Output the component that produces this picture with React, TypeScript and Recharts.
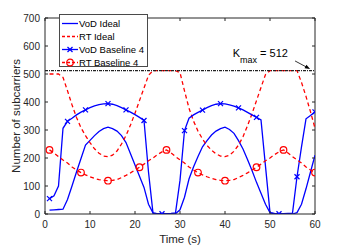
import React from 'react';
import { LineChart, Line, XAxis, YAxis, ReferenceLine, ReferenceDot } from 'recharts';

// time in seconds
const TIME = [
    1, 2, 3, 4, 5, 6, 7, 8, 9, 10, 11, 12, 13, 14, 15, 16, 17, 18, 19, 20,
    21, 22, 23, 24, 25, 26, 27, 28, 29, 30, 31, 32, 33, 34, 35, 36, 37, 38, 39, 40,
    41, 42, 43, 44, 45, 46, 47, 48, 49, 50, 51, 52, 53, 54, 55, 56, 57, 58, 59, 60
];

const VOD_IDEAL = [
    14, 15, 16, 17, 52, 100, 150, 198, 246, 263, 280, 295, 305, 310, 305, 296, 280, 255, 215, 175,
    135, 95, 35, 4, 0, 0, 0, 0, 1, 15, 60, 125, 168, 205, 240, 262, 282, 296, 305, 310,
    302, 288, 262, 232, 195, 155, 113, 74, 35, 5, 0, 0, 0, 0, 0, 5, 35, 90, 150, 210
];

const RT_IDEAL = [
    500, 500, 500, 488, 440, 390, 345, 308, 280, 255, 233, 217, 207, 205, 210, 225, 250, 280, 318, 360,
    405, 450, 495, 512, 512, 512, 512, 512, 512, 505, 440, 378, 332, 296, 268, 245, 228, 215, 207, 205,
    210, 224, 246, 276, 315, 358, 405, 452, 498, 512, 512, 512, 512, 512, 512, 512, 470, 420, 365, 306
];

const VOD_BASE = [
    55, 65, 100, 306, 331, 342, 354, 364, 372, 380, 386, 391, 393, 394, 392, 387, 380, 372, 364, 355,
    345, 334, 150, 3, 1, 1, 1, 2, 4, 120, 298, 342, 354, 363, 371, 380, 387, 392, 394, 393,
    390, 385, 379, 372, 363, 354, 345, 336, 170, 5, 2, 1, 1, 2, 3, 133, 240, 340, 352, 365
];

const RT_BASE = [
    229, 218, 205, 193, 182, 168, 157, 148, 140, 133, 127, 123, 120, 119, 120, 123, 130, 138, 147, 157,
    167, 178, 190, 200, 212, 222, 229, 218, 205, 193, 182, 168, 157, 148, 140, 133, 127, 123, 120, 119,
    120, 123, 130, 138, 147, 157, 167, 178, 190, 200, 212, 222, 229, 218, 205, 193, 182, 168, 157, 148
];

// times where markers are drawn
const VOD_BASE_MARKS = [1, 5, 9, 14, 18, 22, 26, 31, 35, 39, 43, 47, 52, 56, 60];
const RT_BASE_MARKS = [1, 8, 14, 21, 27, 34, 40, 47, 53, 60];

const X_TICKS = [0, 10, 20, 30, 40, 50, 60];
const Y_TICKS = [0, 100, 200, 300, 400, 500, 600, 700];
const K_MAX = 512;

const data = TIME.map((t, i) => ({
    t,
    vodIdeal: VOD_IDEAL[i],
    rtIdeal: RT_IDEAL[i],
    vodBase: VOD_BASE[i],
    rtBase: RT_BASE[i]
}));

const W = 349;
const H = 247;
const MARGIN = { top: 18, right: 34, bottom: 0, left: 0 };
const Y_AXIS_W = 45;
const X_AXIS_H = 33;
const PLOT_LEFT = MARGIN.left + Y_AXIS_W;
const PLOT_RIGHT = W - MARGIN.right;
const PLOT_TOP = MARGIN.top;
const PLOT_BOTTOM = H - MARGIN.bottom - X_AXIS_H;
const TICK_LEN = 3;

const AXIS_COLOR = '#262626';
const BLUE = '#0000ff';
const RED = '#ff0000';
const FONT = '"Liberation Sans", Arial, sans-serif';

const XTick = (props: any) => {
    const { x, y, payload } = props;
    return (
        <g>
            <line x1={x} x2={x} y1={PLOT_BOTTOM} y2={PLOT_BOTTOM - TICK_LEN} stroke={AXIS_COLOR} />
            <line x1={x} x2={x} y1={PLOT_TOP} y2={PLOT_TOP + TICK_LEN} stroke={AXIS_COLOR} />
            <text x={x} y={y} dy='0.71em' textAnchor='middle' fontSize={10} fill={AXIS_COLOR} fontFamily={FONT}>
                {payload.value}
            </text>
        </g>
    );
};

const YTick = (props: any) => {
    const { x, y, payload } = props;
    return (
        <g>
            <line x1={PLOT_LEFT} x2={PLOT_LEFT + TICK_LEN} y1={y} y2={y} stroke={AXIS_COLOR} />
            <line x1={PLOT_RIGHT - TICK_LEN} x2={PLOT_RIGHT} y1={y} y2={y} stroke={AXIS_COLOR} />
            <text x={x} y={y} dy='0.355em' textAnchor='end' fontSize={10} fill={AXIS_COLOR} fontFamily={FONT}>
                {payload.value}
            </text>
        </g>
    );
};

const YLabel = (props: any) => {
    const { viewBox } = props;
    const cx = viewBox.x + 19.5;
    const cy = viewBox.y + viewBox.height / 2;
    return (
        <text x={cx} y={cy} transform={`rotate(-90, ${cx}, ${cy})`} textAnchor='middle'
            fontSize={11.5} fill={AXIS_COLOR} fontFamily={FONT}>
            Number of subcarriers
        </text>
    );
};

const XLabel = (props: any) => {
    const { viewBox } = props;
    return (
        <text x={viewBox.x + viewBox.width / 2} y={viewBox.y + 29} textAnchor='middle'
            fontSize={11.5} fill={AXIS_COLOR} fontFamily={FONT}>
            Time (s)
        </text>
    );
};

const crossMark = (cx: number, cy: number, color: string, key?: any) => (
    <g key={key}>
        <line x1={cx - 2.5} y1={cy - 2.5} x2={cx + 2.5} y2={cy + 2.5} stroke={color} strokeWidth={1.2} />
        <line x1={cx - 2.5} y1={cy + 2.5} x2={cx + 2.5} y2={cy - 2.5} stroke={color} strokeWidth={1.2} />
    </g>
);

const circleMark = (cx: number, cy: number, color: string, key?: any) => (
    <circle key={key} cx={cx} cy={cy} r={3.3} fill='none' stroke={color} strokeWidth={1.2} />
);

const VodDot = (props: any) => {
    const { cx, cy, payload, index } = props;
    if (!VOD_BASE_MARKS.includes(payload.t)) return <g key={index} />;
    return crossMark(cx, cy, BLUE, index);
};

const RtDot = (props: any) => {
    const { cx, cy, payload, index } = props;
    if (!RT_BASE_MARKS.includes(payload.t)) return <g key={index} />;
    return circleMark(cx, cy, RED, index);
};

const KmaxText = (props: any) => {
    const { cx, cy } = props;
    return (
        <text x={cx} y={cy} fontSize={11} fill='#000' fontFamily={FONT}>
            <tspan>K</tspan>
            <tspan dy={6} fontSize={9}>max</tspan>
            <tspan dy={-6}> = {K_MAX}</tspan>
        </text>
    );
};

const KmaxArrow = (props: any) => {
    const { cx, cy } = props;
    return (
        <g>
            <line x1={cx - 15} y1={cy - 8} x2={cx - 3} y2={cy - 1.6} stroke='#000' strokeWidth={0.8} />
            <polygon points={`${cx},${cy} ${cx - 5.5},${cy - 0.6} ${cx - 3.6},${cy - 4.2}`} fill='#000' />
        </g>
    );
};

const legendItems = [
    { name: 'VoD Ideal', color: BLUE, dash: undefined, mark: null },
    { name: 'RT Ideal', color: RED, dash: '3 2', mark: null },
    { name: 'VoD Baseline 4', color: BLUE, dash: undefined, mark: 'x' },
    { name: 'RT Baseline 4', color: RED, dash: '3 2', mark: 'o' }
];

const ChartLegend = () => (
    <div style={{
        position: 'absolute', left: 59, top: 14, width: 89, height: 53, boxSizing: 'border-box',
        border: '1px solid #4a4a4a', background: '#fff', paddingTop: 2, fontFamily: FONT
    }}>
        {legendItems.map((item) => (
            <div key={item.name} style={{ position: 'relative', height: 13, lineHeight: '13px', fontSize: 9.5, color: '#000' }}>
                <svg width={18} height={13} style={{ position: 'absolute', left: 1, top: 0 }}>
                    <line x1={1} x2={17} y1={6.5} y2={6.5} stroke={item.color} strokeWidth={1.3} strokeDasharray={item.dash} />
                    {item.mark === 'x' && crossMark(9, 6.5, item.color)}
                    {item.mark === 'o' && circleMark(9, 6.5, item.color)}
                </svg>
                <span style={{ position: 'absolute', left: 19, top: 0, whiteSpace: 'nowrap' }}>{item.name}</span>
            </div>
        ))}
    </div>
);

export default function App() {
    return (
        <div style={{ position: 'absolute', left: 0, top: 0, width: W, height: H, background: '#fff' }}>
            <LineChart width={W} height={H} data={data} margin={MARGIN}>
                <XAxis dataKey='t' type='number' domain={[0, 60]} ticks={X_TICKS} allowDataOverflow
                    height={X_AXIS_H} stroke={AXIS_COLOR} tickLine={false} tickSize={0} tickMargin={7}
                    tick={(p: any) => <XTick {...p} />} label={<XLabel />} />
                <YAxis type='number' domain={[0, 700]} ticks={Y_TICKS} allowDataOverflow
                    width={Y_AXIS_W} stroke={AXIS_COLOR} tickLine={false} tickSize={0} tickMargin={5}
                    tick={(p: any) => <YTick {...p} />} label={<YLabel />} />
                <ReferenceLine y={700} stroke={AXIS_COLOR} />
                <ReferenceLine x={60} stroke={AXIS_COLOR} />
                <Line dataKey='vodIdeal' stroke={BLUE} strokeWidth={1.3} dot={false} activeDot={false} isAnimationActive={false} />
                <Line dataKey='rtIdeal' stroke={RED} strokeWidth={1.3} strokeDasharray='4 3' dot={false} activeDot={false} isAnimationActive={false} />
                <Line dataKey='vodBase' stroke={BLUE} strokeWidth={1.3} dot={VodDot} activeDot={false} isAnimationActive={false} />
                <Line dataKey='rtBase' stroke={RED} strokeWidth={1.3} strokeDasharray='4 3' dot={RtDot} activeDot={false} isAnimationActive={false} />
                <ReferenceLine y={K_MAX} stroke='#222' strokeWidth={1.2} strokeDasharray='3 1 1 1' />
                <ReferenceDot x={41.7} y={560} r={1} shape={KmaxText} />
                <ReferenceDot x={58.9} y={518} r={1} shape={KmaxArrow} />
            </LineChart>
            <ChartLegend />
        </div>
    );
}
